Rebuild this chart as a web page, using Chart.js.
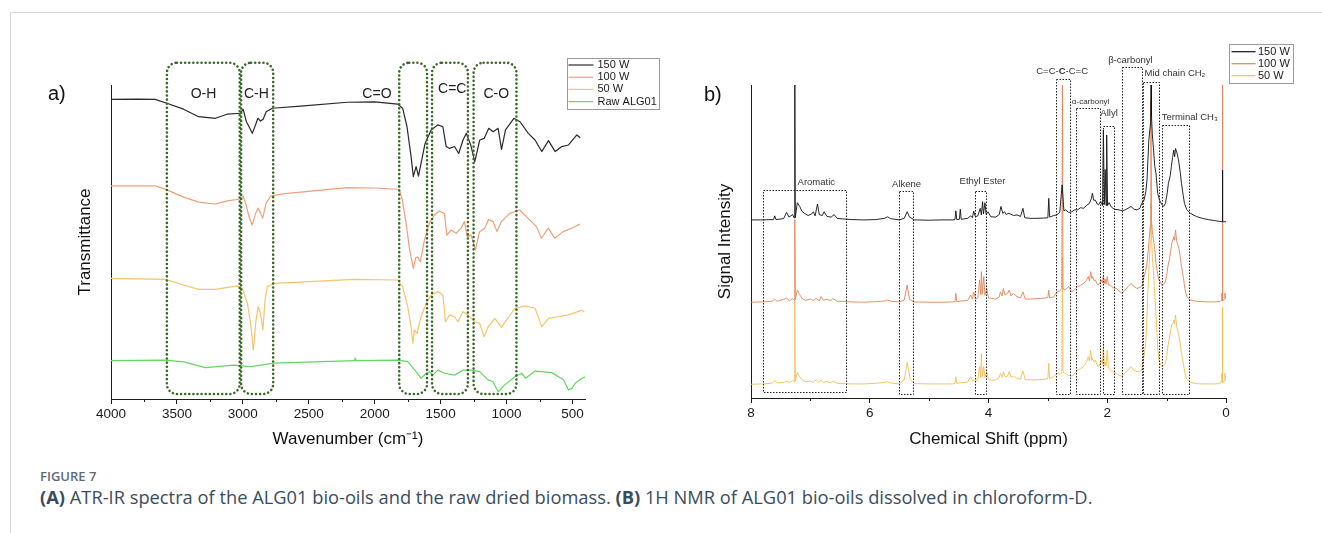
<!DOCTYPE html>
<html>
<head>
<meta charset="utf-8">
<script src="https://cdn.jsdelivr.net/npm/chart.js@4.4.1/dist/chart.umd.min.js"></script>
<style>
    body { margin: 0; background: #fff; width: 1322px; height: 533px; position: relative; overflow: hidden; font-family: 'Liberation Sans', Arial, sans-serif; }
    .frame-top { position: absolute; left: 10px; top: 12px; right: 0; height: 1px; background: #d6d6d6; }
    .frame-left { position: absolute; left: 10px; top: 12px; bottom: 0; width: 1px; background: #d6d6d6; }
    #irChart { position: absolute; left: 0; top: 0; }
    #nmrChart { position: absolute; left: 690px; top: 0; }
    .panel-tag { position: absolute; font-size: 20px; color: #111; }
    .fig-no { position: absolute; left: 40px; top: 467px; font-family: 'Open Sans', sans-serif; font-weight: 600; font-size: 13px; color: #5d6b76; }
    .fig-text { position: absolute; left: 40px; top: 484px; font-family: 'Open Sans', sans-serif; font-size: 18.3px; color: #3a4d60; white-space: nowrap; }
</style>
</head>
<body>
<div class="frame-top"></div>
<div class="frame-left"></div>
<canvas id="irChart" width="690" height="460"></canvas>
<canvas id="nmrChart" width="632" height="460"></canvas>
<div class="panel-tag" style="left:48px;top:82px;">a)</div>
<div class="panel-tag" style="left:704px;top:83px;">b)</div>
<div class="fig-no">FIGURE 7</div>
<div class="fig-text"><b>(A)</b> ATR-IR spectra of the ALG01 bio-oils and the raw dried biomass. <b>(B)</b> 1H NMR of ALG01 bio-oils dissolved in chloroform-D.</div>

<script>
// ---- a) ATR-IR data: [wavenumber cm-1, offset transmittance (a.u.)]
const irSeriesLabels = ['150 W', '100 W', '50 W', 'Raw ALG01'];
const irTicks = [4000, 3500, 3000, 2500, 2000, 1500, 1000, 500];
const irMinorTicks = [3750, 3250, 2750, 2250, 1750, 1250, 750];

const ir150W = [
    [4000, 95.4], [3800, 95.5], [3665, 95.4], [3576, 94.2], [3450, 92.3], [3335, 89.9], [3208, 89.4],
    [3120, 90.7], [3018, 91.0], [2998, 92.3], [2973, 88.3], [2947, 86.2], [2929, 84.6], [2909, 86.7],
    [2886, 89.4], [2866, 88.5], [2846, 89.1], [2823, 91.5], [2777, 92.6], [2562, 93.3], [2206, 94.5],
    [2000, 94.6], [1826, 93.9], [1788, 92.6], [1755, 86.7], [1724, 77.2], [1707, 70.8], [1686, 74.0],
    [1668, 71.0], [1648, 75.1], [1618, 81.4], [1572, 85.7], [1521, 87.3], [1483, 86.7], [1458, 80.4],
    [1432, 79.8], [1394, 80.4], [1363, 78.2], [1330, 82.5], [1305, 84.6], [1272, 80.9], [1241, 75.6],
    [1203, 82.5], [1170, 83.0], [1135, 86.2], [1102, 85.1], [1064, 86.2], [1038, 79.5], [1008, 85.7],
    [944, 89.4], [898, 88.3], [835, 84.6], [784, 82.5], [733, 78.8], [682, 82.3], [631, 78.8],
    [581, 80.4], [530, 80.9], [467, 84.1], [441, 83.2]
];
const ir100W = [
    [4000, 67.9], [3665, 67.9], [3576, 66.6], [3450, 64.3], [3335, 62.7], [3208, 62.1], [3120, 63.1],
    [3018, 63.7], [2998, 64.6], [2975, 61.8], [2955, 58.3], [2929, 55.4], [2905, 58.9], [2885, 60.8],
    [2866, 59.2], [2850, 57.6], [2823, 62.4], [2790, 64.6], [2700, 65.3], [2206, 67.3], [2000, 67.2],
    [1826, 66.8], [1814, 66.8], [1790, 63.4], [1760, 55.4], [1735, 47.5], [1707, 41.6], [1690, 44.9],
    [1674, 45.3], [1654, 43.7], [1623, 50.6], [1585, 56.0], [1547, 58.6], [1509, 59.9], [1471, 59.1],
    [1453, 52.2], [1420, 53.8], [1382, 52.8], [1344, 54.4], [1319, 56.5], [1298, 51.7], [1268, 52.2],
    [1237, 47.5], [1205, 53.3], [1166, 54.4], [1136, 57.2], [1103, 56.5], [1072, 53.3], [1040, 56.5],
    [976, 59.1], [900, 60.2], [836, 57.5], [773, 54.9], [735, 51.2], [684, 54.4], [634, 51.2],
    [570, 53.3], [507, 54.4], [444, 55.7]
];
const ir50W = [
    [4000, 38.4], [3589, 38.1], [3450, 36.3], [3335, 34.9], [3208, 34.9], [3043, 36.0], [3005, 35.3],
    [2966, 30.5], [2941, 24.1], [2921, 15.6], [2900, 25.2], [2883, 29.4], [2866, 27.3], [2848, 22.0],
    [2832, 31.5], [2815, 35.8], [2764, 36.8], [2155, 38.1], [1826, 37.9], [1788, 35.8], [1750, 29.4],
    [1724, 23.0], [1710, 17.7], [1699, 22.0], [1679, 20.9], [1648, 26.2], [1610, 30.5], [1572, 33.1],
    [1521, 34.2], [1483, 33.1], [1463, 24.6], [1432, 26.8], [1394, 26.2], [1369, 24.6], [1330, 27.8],
    [1292, 26.8], [1241, 24.6], [1203, 24.1], [1170, 19.8], [1140, 23.0], [1089, 25.7], [1038, 22.8],
    [1000, 25.2], [936, 28.9], [860, 29.6], [784, 28.9], [733, 23.0], [682, 25.7], [606, 26.2],
    [530, 26.8], [428, 28.3], [410, 27.7]
];
const irRaw = [
    [4000, 12.2], [3589, 12.4], [3450, 11.8], [3284, 10.0], [3069, 10.8], [2941, 10.3], [2764, 11.4],
    [2155, 12.2], [2150, 13.1], [2140, 12.2], [1826, 12.4], [1750, 11.9], [1686, 8.7], [1648, 6.6],
    [1610, 8.2], [1585, 8.7], [1559, 7.6], [1521, 9.2], [1470, 8.2], [1394, 7.6], [1330, 9.2],
    [1267, 9.2], [1203, 8.7], [1140, 6.1], [1102, 5.5], [1064, 2.3], [1013, 4.5], [936, 7.1],
    [886, 8.2], [855, 6.6], [784, 8.9], [657, 8.4], [568, 6.1], [530, 2.9], [504, 3.4], [479, 5.0],
    [428, 6.6], [397, 7.1]
];
const irRegions = [[3576, 3024], [3013, 2770], [1814, 1603], [1565, 1293], [1250, 925]];
const irRegionNames = ['O-H', 'C-H', 'C=O', 'C=C', 'C-O'];

// ---- b) 1H NMR data: [chemical shift ppm, offset intensity (a.u.)]
const nmrSeriesLabels = ['150 W', '100 W', '50 W'];
const nmrTicks = [8, 6, 4, 2, 0];
const nmrMinorTicks = [7, 5, 3, 1];

const nmr150W = [
    [8.00, 56.9], [7.80, 56.9], [7.62, 57.0], [7.60, 58.2], [7.58, 57.0], [7.45, 57.3], [7.40, 59.3],
    [7.36, 57.8], [7.30, 58.6], [7.27, 57.5], [7.262, 100], [7.255, 57.6], [7.22, 62.4], [7.18, 61.2],
    [7.14, 59.6], [7.10, 59.0], [7.04, 58.3], [6.98, 58.8], [6.95, 59.5], [6.92, 58.2], [6.88, 62.0],
    [6.85, 58.6], [6.80, 58.3], [6.77, 59.5], [6.72, 58.0], [6.65, 57.8], [6.60, 58.6], [6.55, 57.4],
    [6.45, 57.2], [6.30, 57.0], [6.10, 56.9], [5.90, 57.0], [5.75, 57.4], [5.70, 57.9], [5.65, 57.3],
    [5.50, 56.9], [5.42, 57.4], [5.37, 59.5], [5.33, 57.8], [5.25, 56.9], [5.00, 56.8], [4.80, 56.9],
    [4.60, 56.9], [4.565, 57.0], [4.55, 59.8], [4.535, 57.0], [4.49, 57.1], [4.475, 60.3], [4.46, 57.1],
    [4.35, 57.4], [4.30, 58.2], [4.27, 57.6], [4.25, 59.7], [4.22, 57.9], [4.18, 58.2], [4.14, 60.6],
    [4.12, 58.5], [4.10, 62.7], [4.085, 58.8], [4.06, 62.4], [4.04, 58.6], [4.01, 59.5], [3.96, 57.9],
    [3.88, 57.8], [3.82, 58.6], [3.79, 61.2], [3.76, 59.0], [3.73, 59.5], [3.70, 58.6], [3.67, 59.0],
    [3.63, 58.8], [3.58, 58.3], [3.52, 58.5], [3.46, 58.0], [3.42, 60.6], [3.39, 57.6], [3.30, 57.4],
    [3.20, 57.4], [3.05, 57.5], [3.00, 57.6], [2.985, 63.8], [2.97, 57.8], [2.90, 58.3], [2.85, 58.5],
    [2.80, 59.3], [2.76, 68.1], [2.73, 59.8], [2.70, 60.1], [2.65, 59.3], [2.60, 59.5], [2.55, 60.1],
    [2.50, 60.1], [2.45, 60.8], [2.40, 60.6], [2.35, 61.5], [2.30, 62.2], [2.27, 63.6], [2.25, 65.4],
    [2.23, 63.2], [2.20, 63.2], [2.17, 62.0], [2.15, 61.7], [2.11, 62.8], [2.08, 61.5], [2.065, 85.6],
    [2.05, 61.8], [2.035, 73.0], [2.02, 61.5], [2.01, 84.0], [1.995, 61.5], [1.97, 62.4], [1.93, 61.0],
    [1.88, 60.3], [1.80, 60.1], [1.75, 59.8], [1.70, 60.1], [1.65, 60.6], [1.60, 61.2], [1.55, 60.3],
    [1.50, 60.1], [1.45, 60.6], [1.42, 62.2], [1.38, 63.2], [1.35, 66.0], [1.33, 69.7], [1.30, 82.4],
    [1.27, 88.0], [1.262, 100], [1.255, 90.0], [1.24, 84.0], [1.22, 79.2], [1.20, 74.0], [1.18, 71.8],
    [1.15, 65.4], [1.12, 63.2], [1.08, 61.8], [1.05, 61.2], [1.02, 62.2], [0.99, 65.5], [0.97, 68.6],
    [0.94, 71.0], [0.92, 74.0], [0.90, 76.8], [0.88, 79.2], [0.865, 77.1], [0.85, 79.7], [0.83, 78.6],
    [0.80, 76.1], [0.77, 72.0], [0.75, 68.6], [0.72, 64.6], [0.70, 62.2], [0.66, 60.2], [0.60, 59.0],
    [0.50, 58.0], [0.40, 57.4], [0.30, 57.0], [0.20, 56.7], [0.10, 56.4], [0.065, 56.3], [0.06, 72.8],
    [0.055, 56.3], [0.00, 56.3]
];
const nmr100W = [
    [8.00, 30.6], [7.80, 30.7], [7.65, 30.9], [7.60, 31.6], [7.56, 30.9], [7.45, 31.5], [7.40, 31.9],
    [7.35, 31.0], [7.30, 31.8], [7.27, 31.2], [7.262, 57.0], [7.255, 31.4], [7.22, 34.5], [7.18, 33.0],
    [7.14, 31.8], [7.08, 31.2], [7.00, 31.6], [6.95, 31.2], [6.90, 31.8], [6.85, 31.0], [6.82, 32.4],
    [6.78, 31.2], [6.72, 31.6], [6.66, 31.0], [6.62, 31.8], [6.55, 30.9], [6.45, 30.9], [6.30, 30.7],
    [6.10, 30.6], [5.90, 30.8], [5.75, 31.0], [5.70, 31.3], [5.65, 30.9], [5.50, 30.7], [5.42, 31.3],
    [5.37, 36.1], [5.33, 31.5], [5.25, 30.7], [5.00, 30.6], [4.80, 30.6], [4.60, 30.7], [4.565, 30.8],
    [4.55, 33.4], [4.535, 30.8], [4.45, 31.0], [4.35, 31.2], [4.30, 32.9], [4.27, 31.6], [4.25, 33.9],
    [4.22, 31.6], [4.18, 32.0], [4.15, 37.7], [4.13, 33.0], [4.12, 40.4], [4.105, 33.2], [4.08, 38.8],
    [4.06, 32.8], [4.03, 35.0], [4.00, 32.0], [3.95, 31.8], [3.88, 31.6], [3.82, 32.2], [3.80, 33.9],
    [3.77, 32.6], [3.75, 35.0], [3.72, 32.9], [3.68, 33.4], [3.65, 34.5], [3.62, 32.6], [3.58, 33.4],
    [3.52, 32.4], [3.46, 32.0], [3.42, 33.9], [3.38, 31.6], [3.30, 31.6], [3.20, 31.7], [3.05, 31.9],
    [3.00, 32.2], [2.985, 34.5], [2.97, 32.0], [2.90, 32.3], [2.85, 33.9], [2.80, 34.2], [2.765, 35.0],
    [2.755, 100], [2.745, 35.2], [2.72, 34.5], [2.68, 35.0], [2.65, 35.6], [2.60, 33.9], [2.55, 34.6],
    [2.50, 35.6], [2.45, 36.0], [2.40, 36.6], [2.35, 37.6], [2.32, 38.8], [2.30, 37.4], [2.28, 40.4],
    [2.26, 38.2], [2.25, 38.8], [2.22, 37.4], [2.20, 37.7], [2.17, 36.4], [2.15, 36.1], [2.12, 37.0],
    [2.10, 37.7], [2.08, 36.8], [2.065, 39.3], [2.05, 36.6], [2.035, 38.0], [2.02, 36.4], [2.00, 38.8],
    [1.98, 36.1], [1.95, 36.1], [1.90, 35.2], [1.85, 35.0], [1.80, 34.2], [1.75, 33.4], [1.70, 34.5],
    [1.65, 35.6], [1.60, 36.6], [1.56, 35.8], [1.50, 35.0], [1.45, 35.4], [1.42, 35.6], [1.38, 38.8],
    [1.35, 40.8], [1.33, 43.0], [1.30, 49.4], [1.275, 55.0], [1.265, 95.0], [1.255, 57.0], [1.24, 53.0],
    [1.22, 50.5], [1.20, 47.5], [1.18, 43.0], [1.15, 39.5], [1.13, 37.7], [1.10, 36.8], [1.08, 36.1],
    [1.05, 36.4], [1.03, 36.6], [1.00, 39.0], [0.98, 41.9], [0.95, 44.6], [0.93, 47.3], [0.91, 49.6],
    [0.89, 50.8], [0.88, 51.5], [0.865, 50.4], [0.85, 53.7], [0.83, 50.0], [0.80, 48.4], [0.78, 46.2],
    [0.75, 42.0], [0.72, 38.8], [0.69, 34.6], [0.66, 32.4], [0.60, 31.3], [0.50, 30.9], [0.40, 30.8],
    [0.30, 30.7], [0.20, 30.7], [0.10, 30.8], [0.08, 31.2], [0.07, 33.5], [0.065, 31.0], [0.06, 100],
    [0.055, 31.0], [0.03, 31.6], [0.02, 33.5], [0.00, 31.6]
];
const nmr50W = [
    [8.00, 4.4], [7.80, 4.5], [7.65, 4.7], [7.60, 5.6], [7.56, 4.8], [7.45, 5.0], [7.40, 5.4],
    [7.35, 4.9], [7.30, 5.6], [7.27, 5.2], [7.262, 31.0], [7.255, 5.4], [7.22, 8.1], [7.18, 6.8],
    [7.14, 5.8], [7.08, 5.2], [7.00, 5.4], [6.95, 5.0], [6.90, 5.8], [6.85, 5.0], [6.82, 5.8],
    [6.78, 5.0], [6.72, 5.3], [6.66, 4.8], [6.62, 5.4], [6.55, 4.7], [6.45, 4.6], [6.30, 4.5],
    [6.10, 4.5], [5.90, 4.7], [5.75, 5.0], [5.70, 5.2], [5.65, 4.8], [5.50, 4.5], [5.42, 5.8],
    [5.39, 9.0], [5.37, 11.3], [5.35, 9.5], [5.32, 6.0], [5.25, 4.6], [5.00, 4.5], [4.80, 4.5],
    [4.60, 4.5], [4.565, 4.7], [4.55, 6.8], [4.535, 4.7], [4.45, 4.9], [4.35, 5.1], [4.30, 6.8],
    [4.27, 5.4], [4.25, 5.6], [4.22, 5.4], [4.18, 5.8], [4.15, 10.0], [4.13, 6.5], [4.12, 14.1],
    [4.105, 6.8], [4.08, 10.0], [4.06, 6.5], [4.03, 8.4], [4.00, 6.0], [3.95, 5.6], [3.88, 5.8],
    [3.82, 6.5], [3.80, 7.9], [3.77, 6.6], [3.75, 8.4], [3.72, 6.8], [3.68, 7.0], [3.65, 8.4],
    [3.62, 6.6], [3.58, 7.0], [3.52, 6.3], [3.46, 6.0], [3.42, 8.7], [3.38, 5.8], [3.30, 5.8],
    [3.20, 5.8], [3.05, 6.0], [3.00, 6.2], [2.985, 11.1], [2.97, 6.2], [2.90, 6.8], [2.85, 7.9],
    [2.80, 7.6], [2.765, 8.0], [2.755, 45.0], [2.745, 8.2], [2.72, 7.9], [2.68, 7.5], [2.65, 7.2],
    [2.60, 7.0], [2.55, 7.8], [2.50, 8.9], [2.45, 9.4], [2.40, 10.0], [2.35, 11.4], [2.32, 13.2],
    [2.30, 11.8], [2.28, 15.3], [2.26, 12.0], [2.25, 12.7], [2.22, 11.4], [2.20, 12.1], [2.17, 10.6],
    [2.15, 10.0], [2.12, 11.0], [2.10, 12.1], [2.08, 10.8], [2.065, 17.5], [2.05, 10.4], [2.035, 11.5],
    [2.02, 10.2], [2.00, 15.3], [1.98, 9.6], [1.95, 8.9], [1.90, 8.2], [1.85, 7.9], [1.80, 7.2],
    [1.75, 7.0], [1.70, 8.0], [1.65, 9.0], [1.60, 10.0], [1.56, 9.0], [1.50, 8.4], [1.45, 8.6],
    [1.42, 8.9], [1.38, 13.2], [1.35, 18.0], [1.33, 27.1], [1.30, 40.9], [1.275, 50.0], [1.265, 62.0],
    [1.255, 52.0], [1.24, 45.0], [1.22, 39.8], [1.20, 33.0], [1.18, 27.1], [1.15, 16.0], [1.13, 12.1],
    [1.10, 10.6], [1.08, 10.0], [1.05, 10.4], [1.03, 10.6], [1.00, 13.0], [0.98, 16.4], [0.95, 19.5],
    [0.93, 21.7], [0.91, 23.6], [0.89, 24.0], [0.88, 24.9], [0.865, 23.8], [0.85, 26.5], [0.83, 22.8],
    [0.80, 20.4], [0.78, 18.5], [0.75, 14.5], [0.72, 11.1], [0.69, 7.8], [0.66, 6.0], [0.60, 5.0],
    [0.50, 4.6], [0.40, 4.5], [0.30, 4.5], [0.20, 4.5], [0.10, 4.6], [0.08, 5.4], [0.07, 7.9],
    [0.065, 4.9], [0.06, 29.0], [0.055, 4.9], [0.03, 5.4], [0.02, 7.9], [0.00, 5.6]
];
const nmrRegions = [[7.80, 6.40], [5.51, 5.28], [4.22, 4.04], [2.86, 2.63], [2.53, 2.12],
    [2.08, 1.89], [1.76, 1.42], [1.39, 1.12], [1.07, 0.61]];
const nmrRegionNames = ['Aromatic', 'Alkene', 'Ethyl Ester', 'C=C-**C**-C=C', 'α-carbonyl',
    'Allyl', 'β-carbonyl', 'Mid chain CH₂', 'Terminal CH₃'];

const FONT = "'Liberation Sans', Arial, sans-serif";
const AXIS_COLOR = '#1e1e1e';

function toPoints(series) {
    return series.map(([x, y]) => ({ x, y }));
}

// draws text with **bold** segments, centred on x
function drawRichText(ctx, text, x, y, size, color) {
    const parts = text.split('**');
    let total = 0;
    const widths = parts.map((p, i) => {
        ctx.font = `${i % 2 ? 'bold ' : ''}${size}px ${FONT}`;
        const w = ctx.measureText(p).width;
        total += w;
        return w;
    });
    let cx = x - total / 2;
    ctx.fillStyle = color;
    ctx.textAlign = 'left';
    ctx.textBaseline = 'middle';
    parts.forEach((p, i) => {
        ctx.font = `${i % 2 ? 'bold ' : ''}${size}px ${FONT}`;
        ctx.fillText(p, cx, y);
        cx += widths[i];
    });
}

const spectraDecor = {
    id: 'spectraDecor',
    afterDatasetsDraw(chart, args, opts) {
        const { ctx, chartArea } = chart;
        const xs = chart.scales.x;
        const ys = chart.scales.y;
        ctx.save();

        // region boxes
        opts.regions.forEach((r, i) => {
            const x1 = xs.getPixelForValue(r[0]);
            const x2 = xs.getPixelForValue(r[1]);
            const top = ys.getPixelForValue(opts.boxTop[i]);
            const bottom = ys.getPixelForValue(opts.boxBottom[i]);
            ctx.beginPath();
            ctx.setLineDash(opts.boxDash);
            ctx.lineCap = opts.boxCap || 'butt';
            ctx.lineWidth = opts.boxLineWidth;
            ctx.strokeStyle = opts.boxColor;
            if (opts.boxRadius) {
                ctx.roundRect(Math.min(x1, x2), top, Math.abs(x2 - x1), bottom - top, opts.boxRadius);
            } else {
                ctx.rect(Math.round(Math.min(x1, x2)) + 0.5, Math.round(top) + 0.5, Math.round(Math.abs(x2 - x1)), Math.round(bottom - top));
            }
            ctx.stroke();
        });
        ctx.setLineDash([]);
        ctx.lineCap = 'butt';

        // region names
        opts.names.forEach((name, i) => {
            const pos = opts.labelAt[i];
            const size = (opts.labelSizes && opts.labelSizes[i]) || opts.labelSize;
            drawRichText(ctx, name, xs.getPixelForValue(pos[0]), ys.getPixelForValue(pos[1]), size, opts.labelColor);
        });

        // minor ticks
        ctx.strokeStyle = AXIS_COLOR;
        ctx.lineWidth = 1;
        opts.minorTicks.forEach(v => {
            const px = Math.round(xs.getPixelForValue(v)) + 0.5;
            ctx.beginPath();
            ctx.moveTo(px, chartArea.bottom);
            ctx.lineTo(px, chartArea.bottom + 3);
            ctx.stroke();
        });

        // legend
        const lg = opts.legend;
        ctx.strokeStyle = '#9a9a9a';
        ctx.lineWidth = 1;
        ctx.strokeRect(lg.x + 0.5, lg.y + 0.5, lg.w, lg.h);
        ctx.font = `${lg.fontSize}px ${FONT}`;
        ctx.textAlign = 'left';
        ctx.textBaseline = 'middle';
        chart.data.datasets.forEach((ds, i) => {
            const yy = lg.y + lg.firstRow + i * lg.rowHeight;
            ctx.strokeStyle = ds.borderColor;
            ctx.lineWidth = 1.2;
            ctx.beginPath();
            ctx.moveTo(lg.x + lg.lineStart, yy);
            ctx.lineTo(lg.x + lg.lineStart + lg.lineLength, yy);
            ctx.stroke();
            ctx.fillStyle = '#1a1a1a';
            ctx.fillText(ds.label, lg.x + lg.textStart, yy);
        });
        ctx.restore();
    }
};

function spectrumScales(cfg) {
    return {
        x: {
            type: 'linear',
            reverse: true,
            min: cfg.xMin,
            max: cfg.xMax,
            afterBuildTicks: s => { s.ticks = cfg.ticks.map(v => ({ value: v })); },
            afterFit: s => { s.height = 55; },
            grid: { drawOnChartArea: false, drawTicks: true, tickLength: 5, tickColor: AXIS_COLOR, tickWidth: 1 },
            border: { display: true, color: AXIS_COLOR, width: 1 },
            ticks: {
                color: '#1a1a1a', padding: 2, autoSkip: false, maxRotation: 0,
                font: { family: FONT, size: 13.5 },
                callback: v => String(v)
            },
            title: {
                display: true, text: cfg.xTitle, color: '#111',
                font: { family: FONT, size: 17 }, padding: { top: 0, bottom: cfg.titlePad }
            }
        },
        y: {
            min: 0,
            max: 100,
            afterFit: s => { s.width = 40; },
            grid: { display: true, drawOnChartArea: false, drawTicks: false },
            border: { display: true, color: AXIS_COLOR, width: 1 },
            ticks: { display: false },
            title: {
                display: true, text: cfg.yTitle, color: '#111',
                font: { family: FONT, size: 17 }, padding: { top: 4, bottom: 0 }
            }
        }
    };
}

function lineSet(label, series, color, width) {
    return {
        label: label,
        data: toPoints(series),
        borderColor: color,
        borderWidth: width,
        pointRadius: 0,
        tension: 0,
        fill: false,
        borderJoinStyle: 'round'
    };
}

function drawIrChart() {
    const colors = ['#2a2a2a', '#f09f7b', '#f7c46c', '#62d862'];
    const series = [ir150W, ir100W, ir50W, irRaw];
    new Chart(document.getElementById('irChart'), {
        type: 'line',
        data: {
            datasets: series.map((s, i) => lineSet(irSeriesLabels[i], s, colors[i], 1.2))
        },
        options: {
            responsive: false,
            animation: false,
            events: [],
            layout: { padding: { left: 71, top: 85, right: 105, bottom: 6 } },
            scales: spectrumScales({
                xMin: 405, xMax: 4000, ticks: irTicks, titlePad: 4,
                xTitle: 'Wavenumber (cm⁻¹)', yTitle: 'Transmittance'
            }),
            plugins: {
                legend: { display: false },
                tooltip: { enabled: false },
                spectraDecor: {
                    regions: irRegions,
                    names: irRegionNames,
                    boxTop: [107.1, 107.1, 107.1, 107.1, 107.1],
                    boxBottom: [1.6, 1.6, 1.6, 1.6, 1.6],
                    labelAt: [[3298, 97.1], [2897, 97.1], [1983, 97.1], [1412, 98.6], [1078, 97.1]],
                    labelSize: 14,
                    labelColor: '#222',
                    boxColor: '#3b6a28',
                    boxLineWidth: 2.6,
                    boxDash: [0.01, 4.1],
                    boxCap: 'round',
                    boxRadius: 10,
                    minorTicks: irMinorTicks,
                    legend: { x: 567, y: 58, w: 92, h: 51, firstRow: 7, rowHeight: 12.2, lineStart: 1.5, lineLength: 25, textStart: 30.5, fontSize: 11 }
                }
            }
        },
        plugins: [spectraDecor]
    });
}

function drawNmrChart() {
    const colors = ['#111111', '#e0845a', '#f0bf55'];
    const series = [nmr150W, nmr100W, nmr50W];
    new Chart(document.getElementById('nmrChart'), {
        type: 'line',
        data: {
            datasets: series.map((s, i) => lineSet(nmrSeriesLabels[i], s, colors[i], 0.9))
        },
        options: {
            responsive: false,
            animation: false,
            events: [],
            layout: { padding: { left: 21, top: 85, right: 96, bottom: 7 } },
            scales: spectrumScales({
                xMin: 0, xMax: 8, ticks: nmrTicks, titlePad: 3,
                xTitle: 'Chemical Shift (ppm)', yTitle: 'Signal Intensity'
            }),
            plugins: {
                legend: { display: false },
                tooltip: { enabled: false },
                spectraDecor: {
                    regions: nmrRegions,
                    names: nmrRegionNames,
                    boxTop: [66.5, 66.1, 66.2, 101.9, 92.7, 86.9, 105.8, 101.0, 87.2],
                    boxBottom: [2.0, 1.3, 1.3, 1.3, 1.3, 1.3, 1.3, 1.3, 1.3],
                    labelAt: [[6.90, 68.9], [5.38, 68.1], [4.10, 69.1], [2.76, 104.2], [2.28, 94.7],
                        [1.97, 91.0], [1.61, 108.0], [0.86, 103.7], [0.61, 89.6]],
                    labelSize: 9.5,
                    labelSizes: [0, 0, 0, 0, 8, 0, 0, 0, 0],
                    labelColor: '#333',
                    boxColor: '#222',
                    boxLineWidth: 1,
                    boxDash: [1.5, 1.5],
                    boxRadius: 0,
                    minorTicks: nmrMinorTicks,
                    legend: { x: 539, y: 44, w: 64, h: 39, firstRow: 7.7, rowHeight: 12, lineStart: 2.5, lineLength: 24, textStart: 29, fontSize: 11 }
                }
            }
        },
        plugins: [spectraDecor]
    });
}

document.addEventListener('DOMContentLoaded', () => {
    drawIrChart();
    drawNmrChart();
});
</script>
</body>
</html>
